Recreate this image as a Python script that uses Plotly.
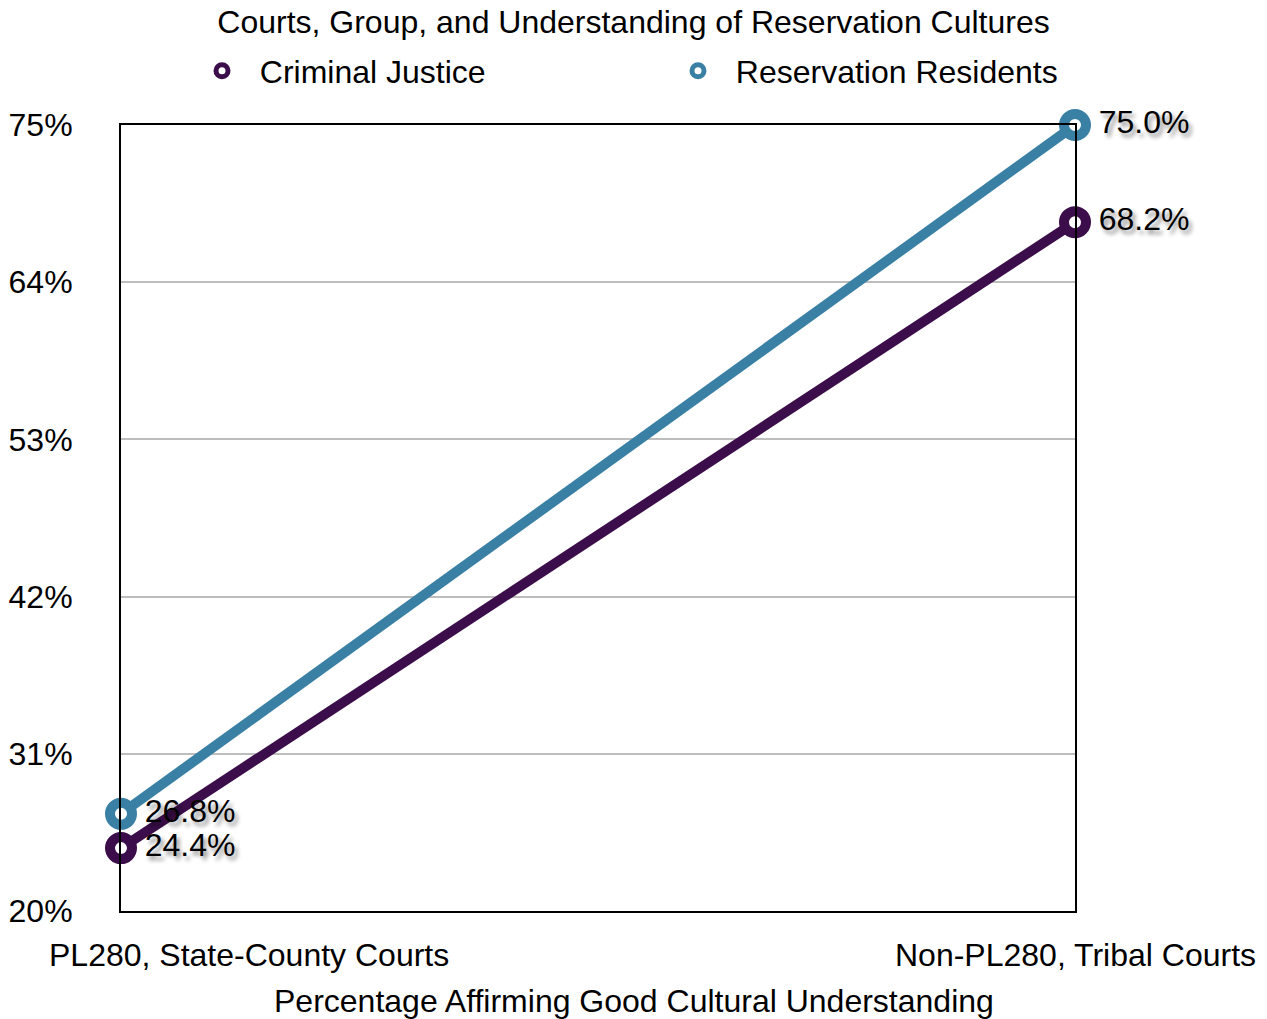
import plotly.graph_objects as go

categories = ["PL280, State-County Courts", "Non-PL280, Tribal Courts"]
criminal_justice = [24.4, 68.2]
reservation_residents = [26.8, 75.0]
y_ticks = [20, 31, 42, 53, 64, 75]
y_tick_labels = ["20%", "31%", "42%", "53%", "64%", "75%"]
series_names = ["Criminal Justice", "Reservation Residents"]
colors = ["#3b0d4a", "#3a80a5"]

FONT = "Liberation Sans, Arial, sans-serif"
FS = 32
W, H = 1267, 1019
xpos = list(range(len(categories)))

fig = go.Figure()
for name, vals, col in zip(series_names, [criminal_justice, reservation_residents], colors):
    fig.add_trace(go.Scatter(
        x=xpos, y=vals, mode="lines+markers+text", name=name, showlegend=False,
        line=dict(color=col, width=10),
        marker=dict(size=22, color="white", line=dict(color=col, width=10)),
        text=[f" {v:.1f}%" for v in vals], textposition="middle right",
        textfont=dict(family=FONT, size=FS, color="black", shadow="3px 4px 4px rgba(0,0,0,0.45)"),
        cliponaxis=False,
    ))
legend_ids = ["legend", "legend2"]
for name, col, lid in zip(series_names, colors, legend_ids):
    fig.add_trace(go.Scatter(
        x=[None], y=[None], mode="markers", name="  " + name, legend=lid,
        marker=dict(size=12, color="white", line=dict(color=col, width=5)),
    ))

annotations = [
    dict(x=0, y=-44 / 786, xref="x", yref="paper", text=categories[0], showarrow=False,
         xanchor="left", yanchor="middle", xshift=-74, font=dict(family=FONT, size=FS, color="black")),
    dict(x=1, y=-44 / 786, xref="x", yref="paper", text=categories[1], showarrow=False,
         xanchor="center", yanchor="middle", font=dict(family=FONT, size=FS, color="black")),
    dict(x=(634 - 121) / 954, y=-90 / 786, xref="paper", yref="paper",
         text="Percentage Affirming Good Cultural Understanding",
         showarrow=False, xanchor="center", yanchor="middle", font=dict(family=FONT, size=FS, color="black")),
]

leg_common = dict(orientation="h", xref="container", yref="container", y=1 - 71 / H, yanchor="middle",
                  xanchor="left", font=dict(family=FONT, size=FS, color="black"), bgcolor="rgba(0,0,0,0)")

fig.update_layout(
    width=W, height=H,
    margin=dict(l=121, r=192, t=125, b=108, autoexpand=False),
    paper_bgcolor="white", plot_bgcolor="white",
    font=dict(family=FONT, size=FS, color="black"),
    title=dict(text="Courts, Group, and Understanding of Reservation Cultures", xref="container", x=0.5,
               xanchor="center", y=1 - 22 / H, yanchor="middle", font=dict(family=FONT, size=FS, color="black")),
    legend=dict(x=202 / W, **leg_common),
    legend2=dict(x=678 / W, **leg_common),
    xaxis=dict(range=[0, 1], showticklabels=False, showgrid=False, zeroline=False,
               showline=True, linecolor="black", linewidth=2, mirror=True, ticks=""),
    yaxis=dict(range=[20, 75], tickvals=y_ticks, ticktext=y_tick_labels, showgrid=True, gridcolor="#bdbdbd",
               gridwidth=2, zeroline=False, showline=True, linecolor="black", linewidth=2, mirror=True,
               ticks="outside", ticklen=40, tickcolor="rgba(0,0,0,0)", tickfont=dict(family=FONT, size=FS)),
    annotations=annotations,
)

fig.write_html("out.html", config={"displayModeBar": False},
               post_script="document.body.style.margin='0';document.body.style.overflow='hidden';")
